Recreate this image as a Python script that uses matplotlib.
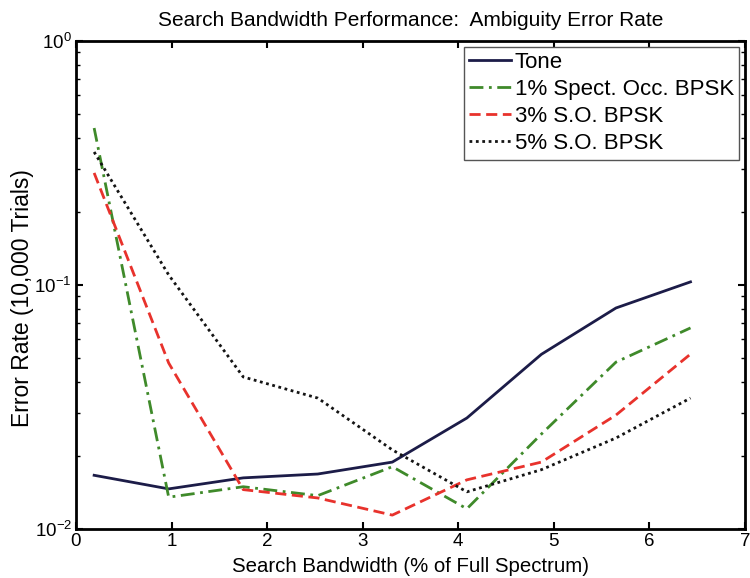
import matplotlib
matplotlib.use("Agg")
from matplotlib import pyplot as plt
from matplotlib.ticker import LogLocator, NullFormatter

plt.rcParams['font.family'] = ['Liberation Sans', 'DejaVu Sans']

bandwidth = [0.19, 0.97, 1.75, 2.53, 3.31, 4.09, 4.87, 5.65, 6.43]

tone = [0.0166, 0.0146, 0.0162, 0.0168, 0.0188, 0.0285, 0.0520, 0.0805, 0.1030]
occ_1 = [0.440, 0.0135, 0.0149, 0.0137, 0.0180, 0.0121, 0.0245, 0.0483, 0.0667]
occ_3 = [0.288, 0.0479, 0.0145, 0.0134, 0.0114, 0.0159, 0.0188, 0.0293, 0.0521]
occ_5 = [0.351, 0.110, 0.0420, 0.0344, 0.0211, 0.0142, 0.0175, 0.0236, 0.0344]

labels = ['Tone', '1% Spect. Occ. BPSK', '3% S.O. BPSK', '5% S.O. BPSK']

fig = plt.figure(figsize=(7.5, 5.78), dpi=100)
ax = fig.add_axes([0.1013, 0.0848, 0.892, 0.8442])

ax.plot(bandwidth, tone, color='#1c1c48', linewidth=2.0, linestyle='-', label=labels[0])
ax.plot(bandwidth, occ_1, color='#3f8a2a', linewidth=2.0, linestyle=(0, (5, 2, 1, 2)), label=labels[1])
ax.plot(bandwidth, occ_3, color='#e8322c', linewidth=2.0, linestyle=(0, (4, 2)), label=labels[2])
ax.plot(bandwidth, occ_5, color='#141414', linewidth=2.0, linestyle=(0, (1, 1.3)), label=labels[3])

ax.set_yscale('log')
ax.set_xlim(0, 7)
ax.set_ylim(1e-2, 1e0)
ax.set_xticks(range(8))
ax.yaxis.set_major_locator(LogLocator(base=10, numticks=5))
ax.yaxis.set_minor_locator(LogLocator(base=10, subs=range(2, 10), numticks=20))
ax.yaxis.set_minor_formatter(NullFormatter())

ax.tick_params(which='both', direction='in', top=True, right=True, labelsize=13.5)
ax.tick_params(which='major', length=5, width=1.5, pad=3)
ax.tick_params(which='minor', length=3, width=1.0)
for spine in ax.spines.values():
    spine.set_linewidth(2.0)

ax.set_title('Search Bandwidth Performance:  Ambiguity Error Rate', fontsize=15, pad=11)
ax.set_xlabel('Search Bandwidth (% of Full Spectrum)', fontsize=14.7, labelpad=5)
ax.set_ylabel('Error Rate (10,000 Trials)', fontsize=16.5)
ax.yaxis.set_label_coords(-0.062, 0.473)

leg = ax.legend(loc='upper right', fontsize=16, handlelength=1.9, handletextpad=0.15,
                labelspacing=0.27, borderpad=0.25, borderaxespad=0.25, fancybox=False,
                edgecolor='#555555', framealpha=1)
leg.get_frame().set_linewidth(1.0)

fig.savefig('out.png', dpi=100)
